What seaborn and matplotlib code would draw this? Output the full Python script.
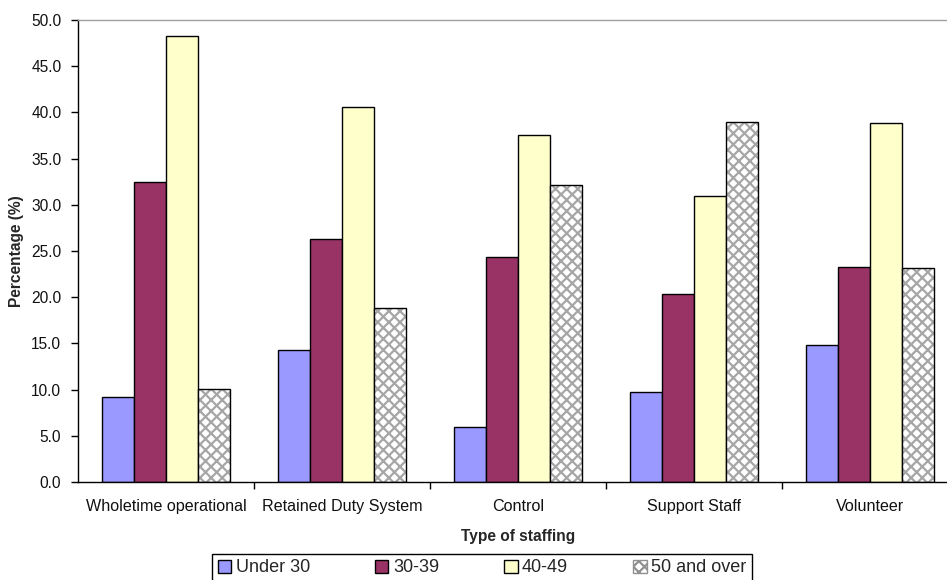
# Staffing age profile chart
import pandas as pd
import matplotlib.pyplot as plt
import seaborn as sns
from matplotlib.patches import Patch, Rectangle

# Data
categories = ['Wholetime operational', 'Retained Duty System', 'Control', 'Support Staff', 'Volunteer']
age_groups = ['Under 30', '30-39', '40-49', '50 and over']
under_30 = [9.2, 14.3, 6.0, 9.7, 14.8]
age_30_39 = [32.5, 26.3, 24.4, 20.4, 23.3]
age_40_49 = [48.3, 40.6, 37.6, 31.0, 38.8]
age_50_over = [10.1, 18.8, 32.1, 39.0, 23.2]
y_ticks = [0, 5, 10, 15, 20, 25, 30, 35, 40, 45, 50]

bar_colors = ['#9999ff', '#993366', '#ffffcc', '#ffffff']

# Long format table for seaborn
df = pd.DataFrame({
    'staffing': categories * 4,
    'age': [g for g in age_groups for _ in categories],
    'pct': under_30 + age_30_39 + age_40_49 + age_50_over,
})

sns.set_theme(style='white')
plt.rcParams['font.family'] = ['Liberation Sans', 'DejaVu Sans']
plt.rcParams['hatch.linewidth'] = 1.6

fig = plt.figure(figsize=(9.47, 5.8), dpi=100)
# axes runs a little past the right edge, like the cropped original
ax = fig.add_axes([78 / 947, 98 / 580, 880 / 947, 462 / 580])

sns.barplot(data=df, x='staffing', y='pct', hue='age', hue_order=age_groups,
            order=categories, palette=bar_colors, width=0.73, gap=0,
            edgecolor='black', linewidth=1, saturation=1, legend=False, ax=ax)

# checkerboard-ish fill for the "50 and over" bars
hatch_grey = '#a6a6a6'
for bar in ax.containers[3]:
    bar.set_facecolor('white')
    bar.set_edgecolor(hatch_grey)
    bar.set_hatch('xxx')
    bar.set_linewidth(0)
    ax.add_patch(Rectangle(bar.get_xy(), bar.get_width(), bar.get_height(),
                           fill=False, edgecolor='black', linewidth=1, zorder=3))

ax.set_xlim(-0.5, 4.5)
ax.set_ylim(0, 50)
ax.set_yticks(y_ticks)
ax.set_yticklabels([f'{t:.1f}' for t in y_ticks])

# ticks between categories on the x axis
ax.set_xticks([0.5, 1.5, 2.5, 3.5], minor=True)
ax.tick_params(axis='x', which='major', length=0, pad=12, labelsize=11.6, colors='#111111')
ax.tick_params(axis='x', which='minor', length=5, width=1, color='black', direction='out', bottom=True)
ax.tick_params(axis='y', length=5, width=1, color='black', direction='out', left=True, pad=7,
               labelsize=11.2, colors='#111111')

for s in ['left', 'bottom']:
    ax.spines[s].set_color('black')
    ax.spines[s].set_linewidth(1)
ax.spines['top'].set_color('#a0a0a0')
ax.spines['top'].set_linewidth(1)
ax.spines['right'].set_visible(False)

ax.set_xlabel('Type of staffing', fontsize=11.2, fontweight='bold', labelpad=11)
ax.set_ylabel('Percentage (%)', fontsize=11.2, fontweight='bold', labelpad=5)

handles = [Patch(facecolor=c, edgecolor='black', linewidth=1) for c in bar_colors[:3]]
handles.append(Patch(facecolor='white', edgecolor='#909090', hatch='xxx', linewidth=1))
leg = fig.legend(handles, age_groups, loc='upper center', bbox_to_anchor=(0.509, 1 - 554 / 580),
                 ncol=4, frameon=True, fancybox=False, edgecolor='black', framealpha=1,
                 fontsize=13, handlelength=0.75, handleheight=0.75, handletextpad=0.25,
                 columnspacing=3.6, borderpad=0.3, borderaxespad=0)
leg.get_frame().set_linewidth(1)

plt.savefig('out.png', dpi=100)
